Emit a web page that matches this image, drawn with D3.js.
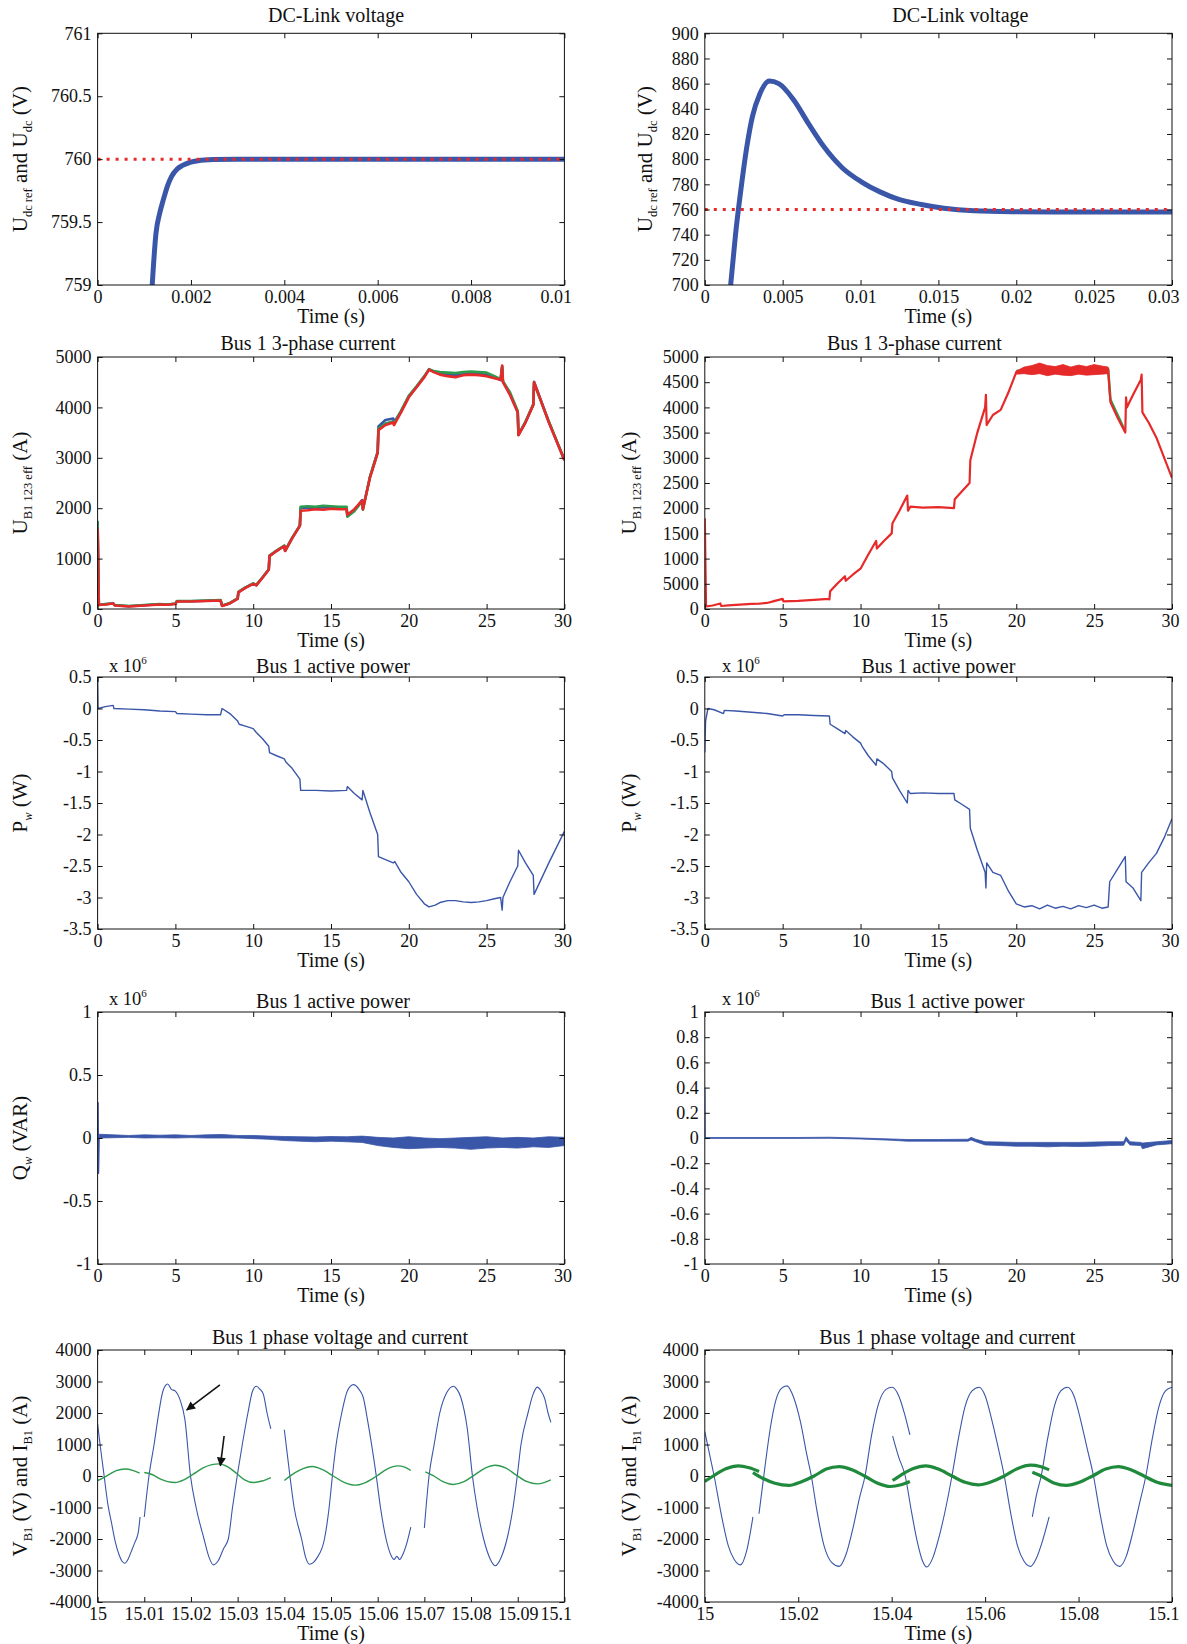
<!DOCTYPE html>
<html>
<head>
<meta charset="utf-8">
<script src="https://cdn.jsdelivr.net/npm/d3@7"></script>
<style>
  body { margin: 0; background: #fff; }
  svg { display: block; }
  text { font-family: "Liberation Serif", "DejaVu Serif", serif; fill: #111; }
</style>
</head>
<body>
<div id="fig"></div>
<script>
// ---- DC-link voltage, left (0..0.01 s)
const dcLeftT = [0.00117, 0.00125, 0.00133, 0.00141, 0.0015, 0.00158, 0.0017, 0.00182, 0.00198, 0.00215, 0.00248, 0.003, 0.005, 0.01];
const dcLeftV = [759.0, 759.41, 759.57, 759.68, 759.79, 759.86, 759.92, 759.95, 759.975, 759.988, 759.997, 760.0, 760.0, 760.0];
const dcLeftRefT = [0, 0.01];
const dcLeftRefV = [760, 760];

// ---- DC-link voltage, right (0..0.03 s)
const dcRightT = [0.00166, 0.00198, 0.00234, 0.0027, 0.00306, 0.00354, 0.00414, 0.00475, 0.00571, 0.00667, 0.00764, 0.00884, 0.01005, 0.01125, 0.01246, 0.0139, 0.01535, 0.01728, 0.01969, 0.0245, 0.03];
const dcRightV = [700, 741, 778, 810, 834, 852, 862, 860, 847, 828, 810, 793, 782, 774, 768, 764, 761, 759, 758.3, 758, 758];
const dcRightRefT = [0, 0.03];
const dcRightRefV = [760, 760];

// ---- Bus 1 3-phase current, left
const curLeftT = [0, 0.08, 0.5, 1.0, 1.1, 2.0, 2.5, 3.0, 3.5, 4.0, 4.5, 5.0, 5.1, 6.0, 7.0, 7.9, 8.0, 8.5, 9.0, 9.05, 9.5, 10.0, 10.2, 10.6, 11.0, 11.05, 11.5, 12.0, 12.05, 12.5, 13.0, 13.05, 13.5, 14.0, 14.5, 15.0, 15.5, 16.0, 16.05, 16.5, 17.0, 17.05, 17.5, 18.0, 18.05, 18.5, 19.0, 19.05, 19.5, 20.0, 20.5, 21.0, 21.3, 21.6, 22.0, 22.5, 23.0, 23.5, 24.0, 24.5, 25.0, 25.5, 25.9, 26.0, 26.05, 26.5, 27.0, 27.05, 27.5, 28.0, 28.05, 29.0, 30.0];
const curLeftBlue = [1700, 90, 95, 115, 75, 55, 65, 75, 85, 95, 90, 105, 155, 155, 165, 175, 65, 115, 205, 335, 425, 505, 475, 625, 785, 1055, 1155, 1255, 1155, 1405, 1655, 2010, 2010, 2000, 2020, 2010, 2000, 2000, 1860, 1960, 2160, 1990, 2610, 3110, 3620, 3750, 3780, 3700, 3920, 4220, 4410, 4610, 4755, 4710, 4670, 4650, 4640, 4660, 4670, 4660, 4650, 4600, 4540, 4810, 4510, 4270, 3910, 3455, 3710, 4055, 4510, 3710, 2955];
const curLeftGreen = [1750, 80, 100, 110, 80, 60, 70, 80, 90, 100, 90, 110, 160, 160, 170, 180, 70, 120, 210, 340, 430, 510, 480, 630, 790, 1060, 1160, 1260, 1160, 1410, 1660, 2030, 2040, 2030, 2050, 2040, 2030, 2030, 1830, 1940, 2140, 1970, 2620, 3120, 3580, 3680, 3720, 3680, 3930, 4230, 4420, 4620, 4760, 4720, 4700, 4690, 4680, 4700, 4710, 4700, 4690, 4620, 4560, 4800, 4520, 4300, 3930, 3460, 3720, 4060, 4480, 3720, 2960];
const curLeftRed = [1600, 80, 90, 110, 70, 50, 60, 70, 80, 90, 85, 100, 150, 150, 160, 170, 60, 110, 200, 330, 420, 500, 470, 620, 780, 1050, 1150, 1250, 1150, 1400, 1650, 1950, 1960, 1980, 1970, 1990, 1980, 1980, 1870, 1980, 2150, 1980, 2600, 3100, 3550, 3650, 3700, 3650, 3900, 4200, 4400, 4600, 4750, 4700, 4650, 4620, 4600, 4640, 4650, 4640, 4620, 4580, 4550, 4830, 4500, 4250, 3900, 3450, 3700, 4050, 4500, 3700, 2950];

// ---- Bus 1 3-phase current, right
const curRightT = [0, 0.08, 0.5, 1.0, 1.05, 1.5, 2.0, 2.5, 3.0, 3.5, 4.0, 4.5, 5.0, 5.05, 6.0, 7.0, 7.95, 8.0, 8.05, 8.5, 9.0, 9.05, 9.5, 10.0, 10.5, 11.0, 11.05, 11.5, 12.0, 12.05, 12.5, 13.0, 13.05, 13.2, 14.0, 15.0, 16.0, 16.05, 16.5, 17.0, 17.05, 17.5, 18.0, 18.05, 18.1, 18.5, 19.0, 19.5, 20.0, 20.5, 25.5, 25.9, 26.0, 26.05, 26.5, 27.0, 27.05, 27.1, 27.5, 28.0, 28.05, 28.1, 28.5, 29.0, 29.5, 30.0];
const curRightRed = [1800, 50, 70, 110, 60, 70, 80, 90, 100, 105, 120, 160, 200, 150, 160, 180, 200, 190, 350, 500, 650, 560, 680, 800, 1080, 1350, 1200, 1350, 1500, 1700, 1950, 2250, 1950, 2030, 2010, 2020, 2000, 2180, 2330, 2500, 2950, 3500, 4000, 4250, 3650, 3850, 3950, 4300, 4700, 4750, 4740, 4750, 4300, 4100, 3800, 3500, 4200, 4000, 4250, 4550, 4650, 3900, 3700, 3400, 3000, 2600];
const curRightNoiseT = [20.0, 20.5, 21.0, 21.5, 22.0, 22.5, 23.0, 23.5, 24.0, 24.5, 25.0, 25.5, 25.9];
const curRightNoiseHi = [4720, 4800, 4830, 4880, 4830, 4810, 4850, 4800, 4840, 4810, 4850, 4820, 4800];
const curRightNoiseLo = [4660, 4670, 4650, 4670, 4630, 4660, 4640, 4630, 4660, 4640, 4650, 4660, 4670];
const curRightGreenT = [20.0, 22.0, 24.0, 25.9, 26.05, 27.0];
const curRightGreenV = [4720, 4780, 4770, 4760, 4150, 3520];

// ---- Bus 1 active power (x 1e6 W)
const powLeftT = [0, 0.03, 0.5, 1.0, 1.05, 2, 3, 4, 5.0, 5.1, 6, 7, 7.9, 8.0, 8.5, 9.0, 9.1, 9.5, 10.0, 10.2, 10.6, 11.0, 11.05, 11.5, 12.0, 12.1, 12.5, 13.0, 13.05, 14, 15, 16.0, 16.05, 16.5, 17.0, 17.05, 17.5, 18.0, 18.05, 18.5, 19.0, 19.1, 19.5, 20.0, 20.5, 21.0, 21.3, 21.7, 22.0, 22.5, 23.0, 23.5, 24.0, 24.5, 25.0, 25.5, 25.9, 26.0, 26.05, 26.5, 27.0, 27.05, 27.5, 28.0, 28.05, 29.0, 30.0];
const powLeftP = [0.5, 0.0, 0.03, 0.05, 0.0, -0.01, -0.02, -0.04, -0.05, -0.08, -0.09, -0.1, -0.1, 0.0, -0.08, -0.2, -0.25, -0.28, -0.32, -0.38, -0.48, -0.6, -0.7, -0.75, -0.8, -0.85, -0.95, -1.12, -1.3, -1.3, -1.31, -1.3, -1.24, -1.35, -1.45, -1.3, -1.65, -2.0, -2.35, -2.4, -2.45, -2.43, -2.6, -2.75, -2.95, -3.1, -3.15, -3.12, -3.08, -3.05, -3.05, -3.07, -3.08, -3.07, -3.05, -3.02, -3.0, -3.2, -3.0, -2.75, -2.5, -2.25, -2.45, -2.65, -2.95, -2.45, -1.95];
const powRightT = [0, 0.05, 0.2, 0.6, 1.2, 1.25, 2, 3, 4, 5.0, 5.1, 6, 7, 8.0, 8.05, 8.5, 9.0, 9.05, 9.5, 10.0, 10.1, 10.5, 11.0, 11.05, 11.5, 12.0, 12.05, 12.5, 13.0, 13.05, 13.2, 14, 15, 16.0, 16.05, 16.5, 17.0, 17.05, 17.5, 18.0, 18.05, 18.1, 18.5, 19.0, 19.5, 20.0, 20.5, 21.0, 21.5, 22.0, 22.5, 23.0, 23.5, 24.0, 24.5, 25.0, 25.5, 25.9, 26.0, 26.5, 27.0, 27.05, 27.5, 28.0, 28.05, 28.5, 29.0, 29.5, 30.0];
const powRightP = [-0.7, -0.2, 0.0, -0.02, -0.08, -0.03, -0.04, -0.06, -0.08, -0.12, -0.1, -0.1, -0.11, -0.12, -0.25, -0.32, -0.4, -0.35, -0.45, -0.55, -0.6, -0.75, -0.9, -0.8, -0.88, -1.0, -1.1, -1.3, -1.5, -1.3, -1.35, -1.34, -1.35, -1.35, -1.45, -1.52, -1.6, -1.9, -2.25, -2.6, -2.85, -2.45, -2.6, -2.65, -2.9, -3.1, -3.15, -3.13, -3.18, -3.12, -3.17, -3.14, -3.18, -3.13, -3.16, -3.12, -3.17, -3.15, -2.75, -2.55, -2.35, -2.75, -2.85, -3.05, -2.6, -2.45, -2.3, -2.05, -1.75];

// ---- reactive power (x 1e6 VAR): start transient + noise band envelope
const qLeftSpikeT = [0, 0.03, 0.06, 0.1];
const qLeftSpikeV = [0.0, 0.28, -0.28, 0.01];
const qLeftT = [0.1, 1, 2, 3, 4, 5, 6, 7, 8, 9, 10, 11, 12, 13, 14, 15, 16, 17, 18, 19, 20, 21, 22, 23, 24, 25, 26, 27, 28, 29, 30];
const qLeftHi = [0.03, 0.025, 0.02, 0.025, 0.022, 0.025, 0.02, 0.025, 0.028, 0.02, 0.02, 0.015, 0.012, 0.01, 0.008, 0.012, 0.01, 0.015, 0.005, 0.0, 0.01, 0.0, -0.005, 0.0, 0.005, 0.01, 0.0, 0.005, 0.0, 0.01, 0.005];
const qLeftLo = [0.0, 0.002, 0.005, 0.0, 0.002, 0.0, 0.003, 0.0, 0.0, 0.0, -0.005, -0.01, -0.02, -0.025, -0.03, -0.025, -0.03, -0.035, -0.06, -0.075, -0.085, -0.08, -0.075, -0.08, -0.09, -0.08, -0.075, -0.08, -0.07, -0.075, -0.06];
const qRightSpikeT = [0.0, 0.02, 0.15];
const qRightSpikeV = [0.4, 0.0, 0.003];
const qRightT = [0.15, 2, 4, 6, 8, 10, 12, 13, 15, 16.9, 17.1, 17.4, 18, 19, 20, 21, 22, 23, 24, 25, 26, 26.9, 27.05, 27.3, 28, 28.1, 29, 30];
const qRightHi = [0.004, 0.004, 0.004, 0.004, 0.006, 0.0, -0.008, -0.012, -0.012, -0.01, 0.005, -0.01, -0.03, -0.032, -0.035, -0.035, -0.035, -0.035, -0.035, -0.032, -0.03, -0.03, 0.01, -0.03, -0.035, -0.04, -0.03, -0.02];
const qRightLo = [-0.003, -0.003, -0.003, -0.003, -0.002, -0.008, -0.018, -0.025, -0.025, -0.025, -0.015, -0.03, -0.055, -0.06, -0.065, -0.065, -0.07, -0.065, -0.068, -0.065, -0.06, -0.058, -0.02, -0.055, -0.06, -0.085, -0.055, -0.045];

// ---- phase voltage / current, left (null = gap between recorded segments)
const vLeftT = [15.0000, 15.0007, 15.0014, 15.0022, 15.0030, 15.0038, 15.0046, 15.0052, 15.0058, 15.0065, 15.0072, 15.0080, 15.0087, 15.0091, null,
  15.0100, 15.0110, 15.0121, 15.0130, 15.0140, 15.0150, 15.0158, 15.0166, 15.0177, 15.0187, 15.0199, 15.0211, 15.0228, 15.0238, 15.0248, 15.0258, 15.0270, 15.0280, 15.0289, 15.0299, 15.0310, 15.0322, 15.0332, 15.0340, 15.0348, 15.0355, 15.0363, 15.0371, null,
  15.0400, 15.0412, 15.0421, 15.0437, 15.0446, 15.0454, 15.0462, 15.0470, 15.0486, 15.0496, 15.0503, 15.0511, 15.0523, 15.0535, 15.0548, 15.0560, 15.0569, 15.0578, 15.0597, 15.0606, 15.0618, 15.0628, 15.0635, 15.0641, 15.0647, 15.0655, 15.0661, 15.0671, null,
  15.0700, 15.0710, 15.0721, 15.0733, 15.0748, 15.0762, 15.0770, 15.0778, 15.0792, 15.0803, 15.0813, 15.0827, 15.0840, 15.0852, 15.0864, 15.0877, 15.0890, 15.0899, 15.0907, 15.0922, 15.0933, 15.0942, 15.0950, 15.0958, 15.0965, 15.0971];
const vLeftV = [1650, 800, 0, -900, -1500, -2100, -2500, -2700, -2770, -2650, -2400, -2100, -1800, -1300, null,
  -1300, 0, 1000, 1900, 2700, 2920, 2750, 2700, 2400, 1800, 0, -1000, -2000, -2550, -2820, -2700, -2300, -2000, -1000, 0, 1000, 2000, 2700, 2850, 2750, 2600, 2000, 1500, null,
  1470, 0, -1000, -2000, -2600, -2800, -2750, -2600, -2000, -1000, 0, 1000, 2000, 2700, 2900, 2750, 2500, 1800, 0, -1000, -2000, -2500, -2650, -2550, -2650, -2450, -2200, -1620, null,
  -1650, 0, 1000, 2000, 2650, 2850, 2750, 2500, 1500, 0, -1000, -2000, -2600, -2850, -2600, -2000, -1000, 0, 1000, 2000, 2600, 2820, 2700, 2450, 2000, 1700];
const iLeftT = [15.0000, 15.0012, 15.0025, 15.0040, 15.0059, 15.0075, 15.0090, null,
  15.0100, 15.0118, 15.0135, 15.0150, 15.0166, 15.0185, 15.0205, 15.0225, 15.0245, 15.0260, 15.0278, 15.0298, 15.0315, 15.0334, 15.0352, 15.0371, null,
  15.0400, 15.0415, 15.0432, 15.0460, 15.0482, 15.0505, 15.0528, 15.0552, 15.0575, 15.0598, 15.0620, 15.0643, 15.0658, 15.0671, null,
  15.0702, 15.0718, 15.0740, 15.0762, 15.0785, 15.0807, 15.0830, 15.0852, 15.0875, 15.0897, 15.0920, 15.0942, 15.0958, 15.0971];
const iLeftV = [-143, -60, 50, 170, 220, 180, 90, null,
  110, 40, -100, -180, -206, -120, 60, 250, 360, 386, 300, 80, -120, -206, -160, -48, null,
  -143, 30, 180, 300, 200, 0, -200, -290, -200, 0, 220, 322, 280, 175, null,
  130, 20, -180, -270, -180, 30, 250, 343, 250, 30, -180, -250, -200, -120];
const arrowFromT = [15.0262, 15.0271];
const arrowFromV = [2890, 1270];
const arrowToT = [15.0191, 15.0263];
const arrowToV = [2100, 330];

// ---- phase voltage / current, right
const vRightT = [15.0000, 15.0010, 15.0020, 15.0035, 15.0050, 15.0063, 15.0076, 15.0090, 15.0103, null,
  15.0116, 15.0122, 15.0128, 15.0140, 15.0152, 15.0164, 15.0176, 15.0190, 15.0205, 15.0218, 15.0228, 15.0240, 15.0255, 15.0272, 15.0288, 15.0302, 15.0318, 15.0331, 15.0343, 15.0357, 15.0372, 15.0388, 15.0401, 15.0415, 15.0428, 15.0439, null,
  15.0402, 15.0415, 15.0429, 15.0442, 15.0455, 15.0466, 15.0475, 15.0488, 15.0502, 15.0516, 15.0529, 15.0543, 15.0557, 15.0572, 15.0587, 15.0600, 15.0614, 15.0628, 15.0641, 15.0655, 15.0669, 15.0683, 15.0697, 15.0710, 15.0724, 15.0737, null,
  15.0701, 15.0710, 15.0720, 15.0734, 15.0748, 15.0762, 15.0776, 15.0790, 15.0804, 15.0818, 15.0832, 15.0846, 15.0860, 15.0874, 15.0888, 15.0902, 15.0916, 15.0930, 15.0944, 15.0958, 15.0972, 15.0986, 15.1000];
const vRightV = [1411, 700, 0, -1200, -2200, -2650, -2820, -2350, -1300, null,
  -1200, -500, 200, 1500, 2400, 2780, 2860, 2500, 1700, 700, 0, -1100, -2200, -2750, -2870, -2500, -1600, -700, 0, 1300, 2300, 2750, 2817, 2550, 1950, 1305, null,
  1270, 600, 0, -1100, -2100, -2700, -2890, -2600, -1900, -1000, 0, 1200, 2200, 2700, 2817, 2550, 1800, 900, 0, -1200, -2200, -2700, -2870, -2600, -2000, -1300, null,
  -1300, -600, 0, 1200, 2200, 2700, 2817, 2550, 1800, 900, 0, -1200, -2200, -2700, -2870, -2550, -1800, -900, 0, 1200, 2200, 2700, 2817];
const iRightT = [15.0000, 15.0018, 15.0045, 15.0072, 15.0095, 15.0116, null,
  15.0103, 15.0125, 15.0150, 15.0180, 15.0207, 15.0234, 15.0260, 15.0288, 15.0315, 15.0342, 15.0370, 15.0397, 15.0420, 15.0439, null,
  15.0402, 15.0420, 15.0445, 15.0473, 15.0500, 15.0529, 15.0557, 15.0585, 15.0612, 15.0641, 15.0670, 15.0697, 15.0718, 15.0737, null,
  15.0701, 15.0720, 15.0747, 15.0774, 15.0802, 15.0830, 15.0858, 15.0885, 15.0912, 15.0940, 15.0968, 15.1000];
const iRightV = [-175, 0, 230, 322, 260, 143, null,
  110, -80, -230, -300, -180, 0, 220, 300, 200, 0, -230, -333, -280, -175, null,
  -143, 30, 230, 322, 220, 0, -200, -280, -190, 0, 240, 343, 300, 195, null,
  120, 0, -220, -300, -200, 0, 220, 300, 200, 0, -200, -300];

// ---- tick values
const dcLeftXTicks = [0, 0.002, 0.004, 0.006, 0.008, 0.01];
const dcLeftYTicks = [759, 759.5, 760, 760.5, 761];
const dcRightXTicks = [0, 0.005, 0.01, 0.015, 0.02, 0.025, 0.03];
const dcRightYTicks = [700, 720, 740, 760, 780, 800, 820, 840, 860, 880, 900];
const timeTicks = [0, 5, 10, 15, 20, 25, 30];
const curLeftYTicks = [0, 1000, 2000, 3000, 4000, 5000];
const curRightYTicks = [0, 500, 1000, 1500, 2000, 2500, 3000, 3500, 4000, 4500, 5000];
const curRightYLabels = ['0', '5000', '1000', '1500', '2000', '2500', '3000', '3500', '4000', '4500', '5000'];
const powYTicks = [-3.5, -3, -2.5, -2, -1.5, -1, -0.5, 0, 0.5];
const qLeftYTicks = [-1, -0.5, 0, 0.5, 1];
const qRightYTicks = [-1, -0.8, -0.6, -0.4, -0.2, 0, 0.2, 0.4, 0.6, 0.8, 1];
const vLeftXTicks = [15, 15.01, 15.02, 15.03, 15.04, 15.05, 15.06, 15.07, 15.08, 15.09, 15.1];
const vRightXTicks = [15, 15.02, 15.04, 15.06, 15.08, 15.1];
const vYTicks = [-4000, -3000, -2000, -1000, 0, 1000, 2000, 3000, 4000];

// ---- colours
const BLUE = '#3a56a8', GREEN = '#2d9a4e', DKGREEN = '#1f8a3c', RED = '#e62a2a';

const svg = d3.select('#fig').append('svg').attr('width', 1187).attr('height', 1644);
let clipCount = 0;

function tickText(d) {
    return String(+d.toFixed(6));
}

// layout of the 5 x 2 grid of axes boxes
const colL = { x0: 97.6, x1: 564.4, yLabelX: 27, expX: 109 };
const colR = { x0: 704.8, x1: 1172, yLabelX: 636, expX: 722 };
const rows = [[33.3, 285], [357, 609], [677, 929], [1012, 1264], [1350, 1602]];

function drawPanel(p) {
    const w = p.col.x1 - p.col.x0, h = rows[p.row][1] - rows[p.row][0];
    const g = svg.append('g')
        .attr('transform', 'translate(' + p.col.x0 + ',' + rows[p.row][0] + ')');
    const x = d3.scaleLinear().domain(p.xDomain).range([0, w]);
    const y = d3.scaleLinear().domain(p.yDomain).range([h, 0]);

    const clipId = 'clip' + (clipCount++);
    g.append('clipPath').attr('id', clipId)
        .append('rect').attr('width', w).attr('height', h);
    const plot = g.append('g').attr('clip-path', 'url(#' + clipId + ')');

    p.series.forEach(function(s) {
        const idx = d3.range(s.t.length);
        if (s.lo) {
            const area = d3.area()
                .x(function(i) { return x(s.t[i]); })
                .y0(function(i) { return y(s.lo[i]); })
                .y1(function(i) { return y(s.hi[i]); });
            plot.append('path').attr('d', area(idx))
                .attr('fill', s.color).attr('stroke', s.color).attr('stroke-width', 0.8);
        } else {
            const line = d3.line()
                .defined(function(i) { return s.v[i] !== null; })
                .x(function(i) { return x(s.t[i]); })
                .y(function(i) { return y(s.v[i]); })
                .curve(s.smooth ? d3.curveMonotoneX : d3.curveLinear);
            plot.append('path').attr('d', line(idx))
                .attr('fill', 'none')
                .attr('stroke', s.color)
                .attr('stroke-width', s.width)
                .attr('stroke-linejoin', 'round')
                .attr('stroke-dasharray', s.dash || null);
        }
    });

    // inward ticks on all four sides, MATLAB style
    const tl = 5;
    const xAxis = g.append('g').attr('transform', 'translate(0,' + h + ')')
        .call(d3.axisBottom(x).tickValues(p.xTicks).tickSizeInner(-tl).tickSizeOuter(0)
            .tickPadding(5).tickFormat(tickText));
    g.append('g')
        .call(d3.axisLeft(y).tickValues(p.yTicks).tickSizeInner(-tl).tickSizeOuter(0)
            .tickPadding(6).tickFormat(function(d, i) {
                return p.yTickLabels ? p.yTickLabels[i] : tickText(d);
            }));
    g.append('g')
        .call(d3.axisTop(x).tickValues(p.xTicks).tickSizeInner(-tl).tickSizeOuter(0).tickFormat(''));
    g.append('g').attr('transform', 'translate(' + w + ',0)')
        .call(d3.axisRight(y).tickValues(p.yTicks).tickSizeInner(-tl).tickSizeOuter(0).tickFormat(''));
    g.selectAll('.domain').remove();
    g.selectAll('.tick line').attr('stroke', '#111');
    g.selectAll('.tick text').attr('font-size', 18).attr('fill', '#111');
    // the last time label sits flush with the right edge
    xAxis.selectAll('.tick text')
        .filter(function(d, i) { return i === p.xTicks.length - 1; })
        .attr('text-anchor', 'end').attr('x', 7);

    g.append('rect').attr('width', w).attr('height', h)
        .attr('fill', 'none').attr('stroke', '#111').attr('stroke-width', 1);

    g.append('text')
        .attr('x', w / 2 + p.titleDx).attr('y', -p.titleGap)
        .attr('text-anchor', 'middle').attr('font-size', 20)
        .text(p.title);
    g.append('text')
        .attr('x', w / 2).attr('y', h + 38)
        .attr('text-anchor', 'middle').attr('font-size', 20)
        .text('Time (s)');

    if (p.yLabel) {
        const yl = g.append('text')
            .attr('transform', 'translate(' + ((p.yLabelX || p.col.yLabelX) - p.col.x0) + ',' + (h / 2) + ') rotate(-90)')
            .attr('text-anchor', 'middle').attr('font-size', 21);
        let shift = 0;
        p.yLabel.forEach(function(part) {
            const target = part.sub ? 5 : 0;
            const ts = yl.append('tspan').attr('dy', target - shift).text(part.s);
            if (part.sub) ts.attr('font-size', 12.5);
            if (part.it) ts.attr('font-style', 'italic');
            shift = target;
        });
    }

    if (p.exponent) {
        const ex = g.append('text')
            .attr('x', p.col.expX - p.col.x0).attr('y', -p.expGap)
            .attr('font-size', 18.5);
        ex.append('tspan').text('x 10');
        ex.append('tspan').attr('font-size', 11).attr('dy', -8).text('6');
    }

    return { g: g, x: x, y: y };
}

const labelUdc = [{ s: 'U' }, { s: 'dc ref', sub: true }, { s: ' and U' }, { s: 'dc', sub: true }, { s: ' (V)' }];
const labelUB1 = [{ s: 'U' }, { s: 'B1 123 eff', sub: true }, { s: ' (A)' }];
const labelPw = [{ s: 'P' }, { s: 'w', sub: true, it: true }, { s: '  (W)' }];
const labelQw = [{ s: 'Q' }, { s: 'w', sub: true, it: true }, { s: '  (VAR)' }];
const labelVI = [{ s: 'V' }, { s: 'B1', sub: true }, { s: '  (V) and I' }, { s: 'B1', sub: true }, { s: '  (A)' }];

// row 1: DC-link voltage
drawPanel({
    col: colL, row: 0, title: 'DC-Link voltage', titleDx: 5, titleGap: 11,
    xDomain: [0, 0.01], yDomain: [759, 761], xTicks: dcLeftXTicks, yTicks: dcLeftYTicks,
    yLabel: labelUdc,
    series: [
        { t: dcLeftT, v: dcLeftV, color: BLUE, width: 5, smooth: true },
        { t: dcLeftRefT, v: dcLeftRefV, color: RED, width: 3, dash: '3,6' }
    ]
});
drawPanel({
    col: colR, row: 0, title: 'DC-Link voltage', titleDx: 22, titleGap: 11,
    xDomain: [0, 0.03], yDomain: [700, 900], xTicks: dcRightXTicks, yTicks: dcRightYTicks,
    yLabel: labelUdc, yLabelX: 652,
    series: [
        { t: dcRightT, v: dcRightV, color: BLUE, width: 5, smooth: true },
        { t: dcRightRefT, v: dcRightRefV, color: RED, width: 3, dash: '3,6' }
    ]
});

// row 2: 3-phase current
drawPanel({
    col: colL, row: 1, title: 'Bus 1 3-phase current', titleDx: -23, titleGap: 7,
    xDomain: [0, 30], yDomain: [0, 5000], xTicks: timeTicks, yTicks: curLeftYTicks,
    yLabel: labelUB1,
    series: [
        { t: curLeftT, v: curLeftBlue, color: BLUE, width: 2.6 },
        { t: curLeftT, v: curLeftGreen, color: GREEN, width: 2.6 },
        { t: curLeftT, v: curLeftRed, color: RED, width: 2.6 }
    ]
});
drawPanel({
    col: colR, row: 1, title: 'Bus 1 3-phase current', titleDx: -24, titleGap: 7,
    xDomain: [0, 30], yDomain: [0, 5000], xTicks: timeTicks, yTicks: curRightYTicks,
    yTickLabels: curRightYLabels, yLabel: labelUB1,
    series: [
        { t: curRightGreenT, v: curRightGreenV, color: GREEN, width: 2.5 },
        { t: curRightNoiseT, lo: curRightNoiseLo, hi: curRightNoiseHi, color: RED },
        { t: curRightT, v: curRightRed, color: RED, width: 2.2 }
    ]
});

// row 3: active power
drawPanel({
    col: colL, row: 2, title: 'Bus 1 active power', titleDx: 2, titleGap: 4,
    xDomain: [0, 30], yDomain: [-3.5, 0.5], xTicks: timeTicks, yTicks: powYTicks,
    yLabel: labelPw, exponent: true, expGap: 5,
    series: [{ t: powLeftT, v: powLeftP, color: BLUE, width: 1.4 }]
});
drawPanel({
    col: colR, row: 2, title: 'Bus 1 active power', titleDx: 0, titleGap: 4,
    xDomain: [0, 30], yDomain: [-3.5, 0.5], xTicks: timeTicks, yTicks: powYTicks,
    yLabel: labelPw, exponent: true, expGap: 5,
    series: [{ t: powRightT, v: powRightP, color: BLUE, width: 1.4 }]
});

// row 4: reactive power (title kept as printed)
drawPanel({
    col: colL, row: 3, title: 'Bus 1 active power', titleDx: 2, titleGap: 4,
    xDomain: [0, 30], yDomain: [-1, 1], xTicks: timeTicks, yTicks: qLeftYTicks,
    yLabel: labelQw, exponent: true, expGap: 7,
    series: [
        { t: qLeftT, lo: qLeftLo, hi: qLeftHi, color: BLUE },
        { t: qLeftSpikeT, v: qLeftSpikeV, color: BLUE, width: 1.4 }
    ]
});
drawPanel({
    col: colR, row: 3, title: 'Bus 1 active power', titleDx: 9, titleGap: 4,
    xDomain: [0, 30], yDomain: [-1, 1], xTicks: timeTicks, yTicks: qRightYTicks,
    exponent: true, expGap: 7,
    series: [
        { t: qRightT, lo: qRightLo, hi: qRightHi, color: BLUE },
        { t: qRightSpikeT, v: qRightSpikeV, color: BLUE, width: 1.4 }
    ]
});

// row 5: phase voltage and current
const pv = drawPanel({
    col: colL, row: 4, title: 'Bus 1 phase voltage and current', titleDx: 9, titleGap: 6,
    xDomain: [15, 15.1], yDomain: [-4000, 4000], xTicks: vLeftXTicks, yTicks: vYTicks,
    yLabel: labelVI,
    series: [
        { t: vLeftT, v: vLeftV, color: BLUE, width: 1.1, smooth: true },
        { t: iLeftT, v: iLeftV, color: GREEN, width: 1.4, smooth: true }
    ]
});
drawPanel({
    col: colR, row: 4, title: 'Bus 1 phase voltage and current', titleDx: 9, titleGap: 6,
    xDomain: [15, 15.1], yDomain: [-4000, 4000], xTicks: vRightXTicks, yTicks: vYTicks,
    yLabel: labelVI,
    series: [
        { t: vRightT, v: vRightV, color: BLUE, width: 1.1, smooth: true },
        { t: iRightT, v: iRightV, color: DKGREEN, width: 3.2, smooth: true }
    ]
});

// annotation arrows on the left voltage/current panel
svg.append('defs').append('marker')
    .attr('id', 'arrowhead').attr('viewBox', '0 0 10 10')
    .attr('refX', 9).attr('refY', 5)
    .attr('markerWidth', 13).attr('markerHeight', 9)
    .attr('markerUnits', 'userSpaceOnUse').attr('orient', 'auto')
    .append('path').attr('d', 'M0,0 L10,5 L0,10 Z').attr('fill', '#111');
arrowFromT.forEach(function(t0, i) {
    pv.g.append('line')
        .attr('x1', pv.x(t0)).attr('y1', pv.y(arrowFromV[i]))
        .attr('x2', pv.x(arrowToT[i])).attr('y2', pv.y(arrowToV[i]))
        .attr('stroke', '#111').attr('stroke-width', 1.6)
        .attr('marker-end', 'url(#arrowhead)');
});
</script>
</body>
</html>
